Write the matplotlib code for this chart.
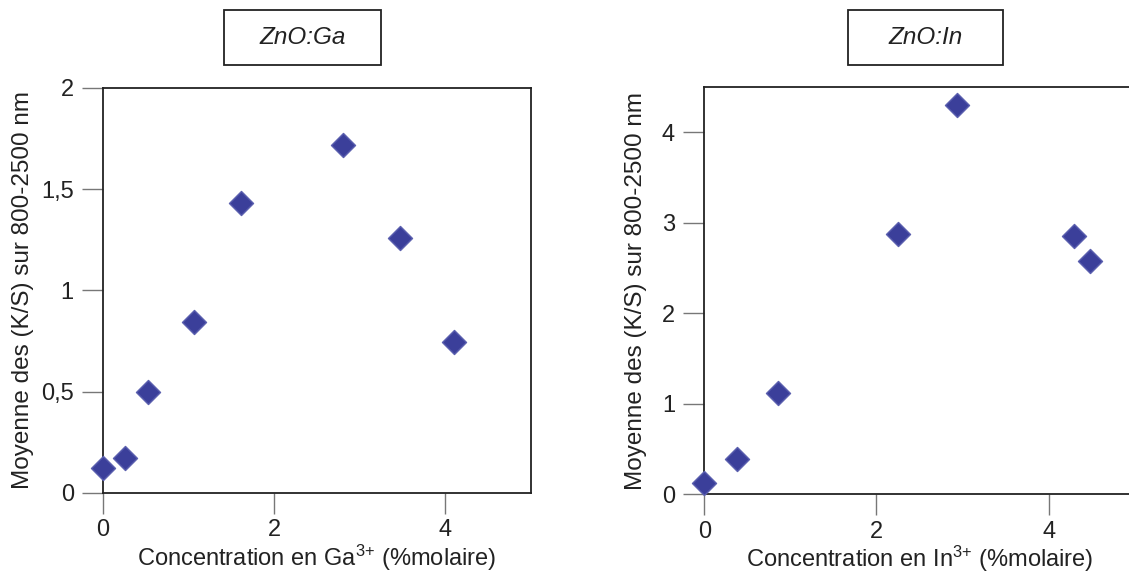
import matplotlib.pyplot as plt
from matplotlib.patches import Rectangle
from matplotlib.ticker import FuncFormatter

plt.rcParams['font.family'] = ['Liberation Sans', 'DejaVu Sans']
plt.rcParams['mathtext.fontset'] = 'custom'
plt.rcParams['mathtext.rm'] = 'Liberation Sans'
plt.rcParams['mathtext.it'] = 'Liberation Sans:italic'

# ZnO:Ga data
ga_conc = [0.0, 0.26, 0.53, 1.06, 1.61, 2.80, 3.47, 4.10]
ga_ks = [0.12, 0.17, 0.50, 0.845, 1.43, 1.72, 1.26, 0.745]

# ZnO:In data
in_conc = [0.0, 0.38, 0.86, 2.25, 2.93, 4.29, 4.48]
in_ks = [0.12, 0.39, 1.12, 2.87, 4.30, 2.85, 2.58]

ylabel = "Moyenne des (K/S) sur 800-2500 nm"
marker_color = "#3b3f9a"
edge_color = "#5a5fae"
txt = "#222222"

fig = plt.figure(figsize=(11.29, 5.75), dpi=100)
ax1 = fig.add_axes([0.0912, 0.1431, 0.3791, 0.7039])
ax2 = fig.add_axes([0.6238, 0.1403, 0.3813, 0.7089])

comma = FuncFormatter(lambda v, p: ("%g" % v).replace(".", ","))


def style(ax, ylab_x):
    for s in ax.spines.values():
        s.set_linewidth(1.3)
        s.set_color(txt)
    ax.tick_params(direction="out", length=15, width=1.0, color="#777777",
                   labelsize=17, labelcolor=txt)
    ax.tick_params(axis="y", pad=6)
    ax.tick_params(axis="x", pad=4)
    ax.set_ylabel(ylabel, fontsize=17.5, color=txt)
    ax.yaxis.set_label_coords(ylab_x, 0.5)


ax1.scatter(ga_conc, ga_ks, marker="D", s=150, color=marker_color,
            edgecolor=edge_color, linewidth=1, clip_on=False, zorder=3)
ax1.set_xlim(0, 5)
ax1.set_ylim(0, 2)
ax1.set_xticks([0, 2, 4])
ax1.set_yticks([0, 0.5, 1, 1.5, 2])
ax1.yaxis.set_major_formatter(comma)
style(ax1, -0.161)
ax1.set_xlabel("Concentration en Ga$^{3{+}}$ (%molaire)", fontsize=17, color=txt, labelpad=1)

ax2.scatter(in_conc, in_ks, marker="D", s=150, color=marker_color,
            edgecolor=edge_color, linewidth=1, clip_on=False, zorder=3)
ax2.set_xlim(0, 5)
ax2.set_ylim(0, 4.5)
ax2.set_xticks([0, 2, 4])
ax2.set_yticks([0, 1, 2, 3, 4])
style(ax2, -0.134)
ax2.set_xlabel("Concentration en In$^{3{+}}$ (%molaire)", fontsize=17, color=txt, labelpad=1)

# title boxes
W, H = 1129, 575
for x0, x1, label in [(224, 381, "ZnO:Ga"), (848, 1003, "ZnO:In")]:
    fig.patches.append(Rectangle((x0 / W, 1 - 65 / H), (x1 - x0) / W, 55 / H,
                                 transform=fig.transFigure, facecolor="white",
                                 edgecolor=txt, linewidth=1.3))
    fig.text((x0 + x1) / 2 / W, 1 - 38 / H, label, fontsize=17.5, style="italic",
             ha="center", va="center", color=txt)

fig.savefig("out.png", dpi=100)
